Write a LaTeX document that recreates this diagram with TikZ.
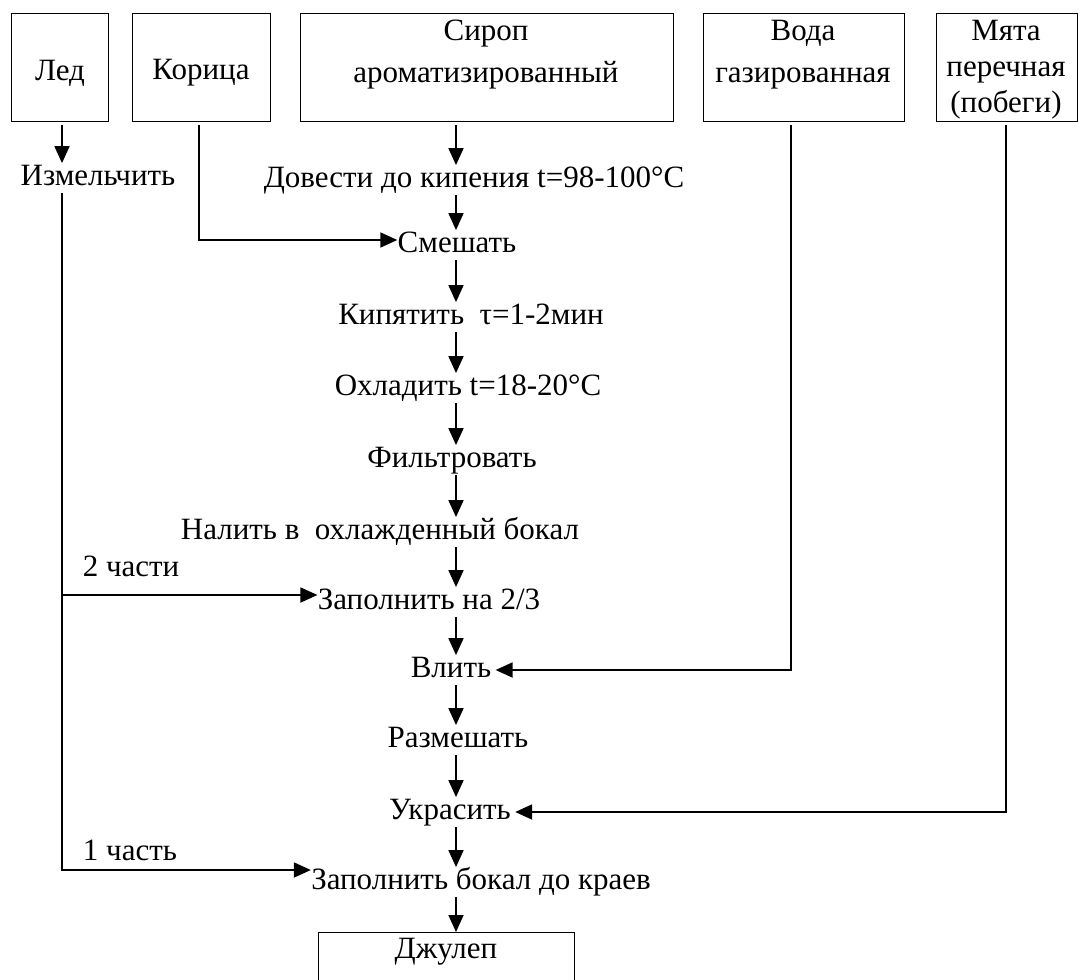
\documentclass[tikz,border=0pt]{standalone}
\usepackage{fontspec}
\setmainfont{Liberation Serif}
\usetikzlibrary{arrows.meta}

\begin{document}
\begin{tikzpicture}[x=0.5pt, y=-0.5pt,
	font=\fontsize{15.5}{21}\selectfont,
	box/.style={draw, line width=0.6pt, anchor=north west, inner sep=0pt, minimum height=54pt},
	stage/.style={inner sep=0pt, text height=11pt, text depth=3.5pt},
	arr/.style={line width=0.9pt, -{Triangle[length=8.5pt, width=7.5pt]}}]
	\useasboundingbox (0,0) rectangle (1078,980);

	\coordinate (icecol) at (62,0);
	\coordinate (col) at (456,0);
	\coordinate (vodacol) at (791,0);
	\coordinate (myatacol) at (1006,0);

	\node [box, minimum width=48.5pt] (led) at (11,13) {};
	\node [box, minimum width=69pt] (korica) at (132,13) {};
	\node [box, minimum width=186.5pt] (sirop) at (300,13) {};
	\node [box, minimum width=100.5pt] (voda) at (703,13) {};
	\node [box, minimum width=70.5pt] (myata) at (936,13) {};
	\node [box, minimum width=128pt, minimum height=40pt] (julep) at (318,932) {};

	\node (ledtext) at (60,73) {Лед};
	\node (koricatext) at (201,73) {Корица};
	\node [align=center, anchor=north, inner sep=0pt] (siroptext) at (486,20) {Сироп\\ароматизированный};
	\node [align=center, anchor=north, inner sep=0pt] (vodatext) at (803,20) {Вода\\газированная};
	\node [align=center, anchor=north, inner sep=0pt, font=\fontsize{15.5}{18}\selectfont] (myatatext) at (1006,20) {Мята\\перечная\\(побеги)};
	\node (juleptext) at (446,952) {Джулеп};

	\node [stage] (izmelchit) at (98,178) {Измельчить};
	\node [stage] (dovesti) at (474,180) {Довести до кипения t=98-100°C};
	\node [stage] (smeshat) at (457,245) {Смешать};
	\node [stage] (kipyatit) at (471,317) {Кипятить\ \ τ=1-2мин};
	\node [stage] (ohladit) at (468,388) {Охладить t=18-20°C};
	\node [stage] (filtr) at (452,460) {Фильтровать};
	\node [stage] (nalit) at (380,532) {Налить в\ \ охлажденный бокал};
	\node [stage] (zapoln) at (429,602) {Заполнить на 2/3};
	\node [stage] (vlit) at (451,670) {Влить};
	\node [stage] (razmeshat) at (458,740) {Размешать};
	\node [stage] (ukrasit) at (450,812) {Украсить};
	\node [stage] (dokraev) at (481,882) {Заполнить бокал до краев};

	\node (twoparts) at (131,566) {2 части};
	\node (onepart) at (130,850) {1 часть};

	\draw [arr, shorten <=1.5pt] (led.south -| icecol) -- (izmelchit.north -| icecol);
	\draw [arr, shorten <=1.5pt] (korica.south -| 199,0) |- ([yshift=2.5pt]smeshat.west);
	\draw [arr] (izmelchit.south -| icecol) |- ([yshift=3.5pt]zapoln.west);
	\draw [arr] (izmelchit.south -| icecol) |- ([yshift=6pt]dokraev.west);
	\draw [arr, shorten <=1.5pt] (voda.south -| vodacol) |- ([xshift=2pt]vlit.east);
	\draw [arr, shorten <=1.5pt] (myata.south -| myatacol) |- ([xshift=2pt]ukrasit.east);

	\draw [arr, shorten <=1.5pt] (sirop.south -| col) -- (dovesti.north -| col);
	\draw [arr] (dovesti.south -| col) -- (smeshat.north -| col);
	\draw [arr] (smeshat.south -| col) -- (kipyatit.north -| col);
	\draw [arr] (kipyatit.south -| col) -- (ohladit.north -| col);
	\draw [arr] (ohladit.south -| col) -- (filtr.north -| col);
	\draw [arr] (filtr.south -| col) -- (nalit.north -| col);
	\draw [arr] (nalit.south -| col) -- (zapoln.north -| col);
	\draw [arr] (zapoln.south -| col) -- (vlit.north -| col);
	\draw [arr] (vlit.south -| col) -- (razmeshat.north -| col);
	\draw [arr] (razmeshat.south -| col) -- (ukrasit.north -| col);
	\draw [arr] (ukrasit.south -| col) -- (dokraev.north -| col);
	\draw [arr] (dokraev.south -| col) -- (julep.north -| col);
\end{tikzpicture}
\end{document}
